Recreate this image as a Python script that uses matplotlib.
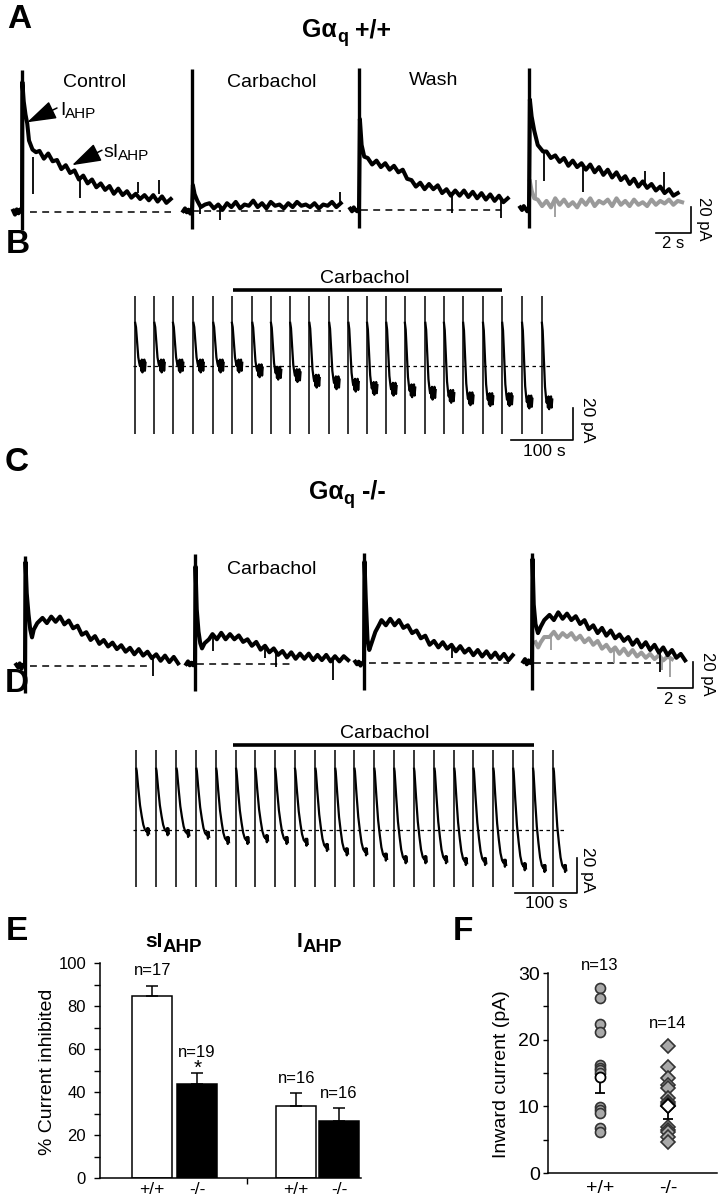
import numpy as np
import matplotlib
matplotlib.use("Agg")
import matplotlib.pyplot as plt

plt.rcParams['font.family'] = ['Liberation Sans', 'DejaVu Sans']
plt.rcParams['axes.linewidth'] = 1.1

# ======================= DATA =======================
DT = 0.25                                   # s, sampling step of slow part of traces
PRE_T = [-0.5, -0.4, -0.3, -0.2, -0.1, 0.0]  # s, pre-stimulus samples

# ---- Panel A : Gaq +/+  (pA vs s after stimulus) ----
A_COND = ['Control', 'Carbachol', 'Wash']
A_ART = (-14, 109)                 # stimulus artefact extent (pA)

A1_PRE = [1, -2, 2, -1, 2, 0]
A1_ET = [0.02, 0.1, 0.2, 0.3, 0.4, 0.6, 0.8]
A1_EI = [100, 85, 75, 68, 55, 48, 46]
A1_T0 = 1.0
A1_SLOW = [47, 41, 45, 39, 40, 33, 36, 30, 32, 25, 28, 22, 25, 19, 22, 17,
           20, 14, 18, 13, 16, 11, 14, 10, 13, 9, 13, 8, 12, 7, 10]
A1_SPK = ([0.63, 3.3, 6.6, 7.8], [14, 11, 15, 14], [42, 28, 23, 25])

A2_PRE = [0, 2, -1, 1, -2, 1]
A2_ET = [0.05, 0.15, 0.3, 0.5, 0.75]
A2_EI = [20, 13, 8, 3, 5]
A2_T0 = 1.0
A2_SLOW = [6, 2, 5, 1, 6, 3, 7, 2, 5, 4, 8, 3, 6, 2, 7, 4, 5, 2, 6, 3, 7, 4,
           5, 3, 6, 2, 5, 4, 7, 3, 6]
A2_SPK = ([0.45, 1.6, 8.45], [-2, -7, 5], [4, 4, 15])

A3_PRE = [1, -1, 2, 0, -1, 1]
A3_ET = [0.05, 0.15, 0.3]
A3_EI = [70, 50, 41]
A3_T0 = 0.5
A3_SLOW = [40, 35, 38, 33, 36, 31, 34, 29, 31, 24, 23, 18, 21, 16, 20, 16, 19,
           13, 16, 11, 15, 11, 15, 10, 14, 9, 13, 8, 12, 7, 11, 6, 9]
A3_SPK = ([5.3, 8.1], [-2, -6], [14, 9])

A4_PRE = [2, 0, 3, 1, -1, 2]
A4_ET = [0.05, 0.15, 0.3, 0.5, 0.8]
A4_EI = [85, 72, 61, 50, 45]
A4_T0 = 1.0
A4_SLOW = [45, 40, 42, 37, 40, 34, 38, 33, 36, 31, 35, 29, 33, 27, 31, 25, 29,
           23, 26, 20, 24, 18, 22, 17, 20, 15, 18, 13, 16, 11, 13]
A4_SPK = ([0.86, 3.1, 6.6, 7.7], [22, 14, 18, 15], [45, 32, 30, 29])
A4G_ET = [0.05, 0.15, 0.3]
A4G_EI = [22, 15, 9]
A4G_T0 = 0.5
A4G_SLOW = [8, 3, 7, 2, 9, 4, 8, 3, 6, 2, 8, 4, 9, 3, 7, 5, 8, 3, 9, 4, 7, 3,
            8, 4, 6, 3, 8, 4, 7, 5, 8, 4, 7, 6]
A4G_SPK = ([0.4, 1.5], [8, -5], [23, 6])

# ---- Panel C : Gaq -/- ----
C_ART = (-21, 85)
C1_PRE = [1, -1, 2, -2, 1, 0]
C1_ET = [0.03, 0.1, 0.2, 0.3, 0.4, 0.5, 0.7]
C1_EI = [80, 56, 40, 28, 22, 28, 33]
C1_T0 = 1.0
C1_SLOW = [37, 33, 38, 34, 38, 32, 35, 29, 31, 24, 26, 20, 23, 17, 20, 15, 18,
           13, 16, 11, 14, 9, 13, 8, 11, 6, 9, 4, 8, 3, 7, 2]
C1_SPK = ([7.3], [-8], [8])

C2_PRE = [0, 2, -1, 1, -1, 2]
C2_ET = [0.03, 0.1, 0.2, 0.3, 0.4, 0.55, 0.8]
C2_EI = [75, 42, 25, 16, 12, 16, 19]
C2_T0 = 1.0
C2_SLOW = [23, 19, 24, 19, 23, 19, 22, 17, 19, 14, 17, 11, 14, 9, 12, 7, 10, 5,
           9, 4, 8, 4, 8, 3, 7, 3, 7, 2, 6, 2, 6, 3]
C2_SPK = ([1.03, 4.0, 4.6, 7.9], [10, 5, -2, -12], [21, 13, 11, 4])

C3_PRE = [1, -1, 1, -2, 0, 1]
C3_ET = [0.03, 0.1, 0.2, 0.3, 0.45, 0.65, 0.85]
C3_EI = [78, 50, 18, 10, 16, 24, 29]
C3_T0 = 1.0
C3_SLOW = [33, 29, 34, 29, 33, 27, 29, 23, 25, 19, 21, 14, 17, 12, 16, 11, 14,
           9, 13, 8, 11, 6, 10, 5, 9, 4, 8, 3, 7, 2, 6]
C3_SPK = ([5.0], [4], [14])

C4_PRE = [1, 3, -1, 2, 0, 1]
C4_ET = [0.03, 0.1, 0.2, 0.34, 0.5, 0.7]
C4_EI = [80, 45, 30, 23, 28, 33]
C4_T0 = 1.0
C4_SLOW = [37, 33, 39, 34, 38, 33, 36, 30, 33, 26, 29, 23, 27, 21, 25, 19, 22,
           17, 20, 14, 18, 12, 16, 10, 14, 8, 12, 6, 10, 4, 7, 2]
C4_SPK = ([7.3], [-7], [11])
C4G_ET = [0.2, 0.35, 0.5, 0.7]
C4G_EI = [16, 12, 16, 20]
C4G_T0 = 1.0
C4G_SLOW = [20, 24, 19, 23, 20, 23, 18, 21, 16, 19, 14, 17, 11, 14, 9, 12, 7,
            11, 6, 10, 5, 8, 4, 7, 3, 6, 2, 5, 3]
C4G_SPK = ([1.1, 4.7, 7.4, 7.9], [10, 0, -5, -11], [21, 12, 5, 4])

# ---- Panel B : sweeps every ~30 s, Gaq +/+ ----
B_ONSET = [0, 31, 61, 94, 126, 156, 189, 219, 250, 281, 313, 344, 374, 405,
           435, 468, 498, 529, 561, 592, 624, 656]
B_LEVEL = [0, 0, 0, 0, 0, 0, -3, -4.5, -6, -9.5, -10.5, -12, -14, -14.5,
           -15.5, -17, -19, -20.5, -21, -21, -22.5, -23]
B_PEAK = 27
B_ART = (-42.5, 44)
B_DEC_T = [0.3, 1.6, 3.7, 5.3, 7.0, 8.0]
B_DEC_F = [1.0, 0.9, 0.5, 0.2, 0.06, 0.0]
B_BLOB_T = [9, 10, 11, 12, 13, 14, 15, 16, 17]
B_BLOB_N = [3, -3, 4, -4, 3, -2, 4, -3, 2]
B_CARB = (158, 592)

# ---- Panel D : sweeps, Gaq -/- ----
D_ONSET = [0, 32, 65, 97, 129, 161, 192, 224, 256, 289, 321, 352, 384, 416,
           448, 481, 513, 544, 576, 608, 640, 673]
D_LEVEL = [-1, -1, -2, -3, -6, -6, -5, -6, -7, -10, -12.5, -12.5, -15.5, -17,
           -17, -17, -18, -18, -19, -21, -22, -22]
D_PEAK = 35
D_ART = (-32.6, 45.7)
D_DEC_T = [0.5, 1.1, 3.7, 6.5, 9.2, 11.8, 14.5, 17.3]
D_DEC_F = [1.0, 0.97, 0.69, 0.42, 0.25, 0.11, 0.03, 0.0]
D_BLOB_T = [18, 19, 20, 21]
D_BLOB_N = [2, -2, 2, -1]
D_CARB = (156, 642)

SCALE_PA = 20
SCALE_S_AC = 2
SCALE_S_BD = 100

# ---- Panel E : % current inhibited ----
E_GENO = ['+/+', '-/-', '+/+', '-/-']
E_MEAN = [84.5, 43.5, 33.5, 26.5]
E_SEM = [5.0, 5.5, 6.0, 6.0]
E_N = [17, 19, 16, 16]
E_FILL = ['white', 'black', 'white', 'black']

# ---- Panel F : inward current (pA) ----
F_GENO = ['+/+', '-/-']
F_WT = [27.7, 26.2, 22.3, 21.2, 16.2, 15.8, 15.45, 15.0, 9.95, 9.45, 8.95, 6.7, 6.2]
F_KO = [19.1, 15.95, 14.2, 13.2, 12.8, 11.2, 10.7, 10.3, 10.05, 6.95, 6.5, 6.2,
        5.45, 4.7]
F_MEAN = [14.4, 10.0]
F_SEM = [2.4, 1.9]
F_N = [13, 14]

# ======================= FIGURE =======================
W, H = 722, 1200
fig = plt.figure(figsize=(W / 100, H / 100), dpi=100)
renderer = fig.canvas.get_renderer()


def px_axes(x0, y0, x1, y1):
    return fig.add_axes([x0 / W, 1 - y1 / H, (x1 - x0) / W, (y1 - y0) / H])


def trace_axes(x0, y0, x1, y1, ox, oy, sx, sy):
    ax = px_axes(x0, y0, x1, y1)
    ax.set_xlim((x0 - ox) / sx, (x1 - ox) / sx)
    ax.set_ylim((oy - y1) / sy, (oy - y0) / sy)
    ax.set_axis_off()
    ax.patch.set_alpha(0)
    return ax


def px_text(x, y, s, **kw):
    kw.setdefault('ha', 'center')
    kw.setdefault('va', 'center')
    return fig.text(x / W, 1 - y / H, s, **kw)


def rich(x, y, pieces, align='left'):
    objs, widths = [], []
    for s, size, weight, dy in pieces:
        t = fig.text(0, 0, s, fontsize=size, fontweight=weight,
                     ha='left', va='baseline')
        widths.append(t.get_window_extent(renderer).width)
        objs.append((t, dy))
    cur = x - sum(widths) / 2 if align == 'center' else x
    for (t, dy), w in zip(objs, widths):
        t.set_position((cur / W, 1 - (y + dy) / H))
        cur += w


def draw_trace(ax, pre, et, ei, t0, slow, spk, color='k', lw=2.9):
    tt = list(et) + list(t0 + DT * np.arange(len(slow)))
    ii = list(ei) + list(slow)
    if pre is not None:
        tt = list(PRE_T) + tt
        ii = list(pre) + ii
    ax.plot(tt, ii, color=color, lw=lw, solid_joinstyle='round')
    ax.vlines(spk[0], spk[1], spk[2], color=color, lw=1.3)


SX, SY = 17.5, 1.3   # px per s, px per pA (panels A, C)
DASH = (0, (4.5, 3.5))
ARROW = dict(arrowstyle='-|>,head_length=1.4,head_width=0.45',
             mutation_scale=13, color='k', lw=1.1, shrinkA=0, shrinkB=0)

# ---------------- Panel A ----------------
A_STIM_X = [22, 192, 359, 529]
A_BASE_Y = [212, 211, 210, 210]
A_DATA = [(A1_PRE, A1_ET, A1_EI, A1_T0, A1_SLOW, A1_SPK),
          (A2_PRE, A2_ET, A2_EI, A2_T0, A2_SLOW, A2_SPK),
          (A3_PRE, A3_ET, A3_EI, A3_T0, A3_SLOW, A3_SPK),
          (A4_PRE, A4_ET, A4_EI, A4_T0, A4_SLOW, A4_SPK)]
A_DASH = [(0.45, 8.5), (0.0, 8.5), (0.1, 8.1), None]
axA = []
for k in range(4):
    x0 = A_STIM_X[k] - 15
    x1 = 722 if k == 3 else A_STIM_X[k] + 165
    ax = trace_axes(x0, 55, x1, 255, A_STIM_X[k], A_BASE_Y[k], SX, SY)
    axA.append(ax)
    if A_DASH[k] is not None:
        ax.hlines(0, *A_DASH[k], colors='k', lw=1.1, linestyles=[DASH])
    if k == 3:
        draw_trace(ax, None, A4G_ET, A4G_EI, A4G_T0, A4G_SLOW, A4G_SPK,
                   color='#9a9a9a')
    draw_trace(ax, *A_DATA[k])
    ax.vlines(0, *A_ART, colors='k', lw=2.4)

# scale bar A
axA[3].plot([9.26 - SCALE_S_AC, 9.26, 9.26],
            [-17.7, -17.7, -17.7 + SCALE_PA], color='k', lw=1.2)
px_text(703, 219, '20 pA', fontsize=12, rotation=270)
px_text(673, 243, '2 s', fontsize=12)

# annotations in A
axA[0].annotate('', xy=(0.29, 69), xytext=(2.0, 80), arrowprops=ARROW)
axA[0].annotate('', xy=(2.86, 36), xytext=(4.57, 47.5), arrowprops=ARROW)
rich(60, 115, [('I', 14, 'normal', 0), ('AHP', 11, 'normal', 3)])
rich(103, 157, [('sI', 14, 'normal', 0), ('AHP', 11, 'normal', 3)])

px_text(95, 87, A_COND[0], fontsize=14, va='baseline')
px_text(272, 87, A_COND[1], fontsize=14, va='baseline')
px_text(434, 85, A_COND[2], fontsize=14, va='baseline')
rich(302, 37, [('G\u03b1', 18, 'bold', 0), ('q', 13, 'bold', 5),
               (' +/+', 18, 'bold', 0)])

# ---------------- Panel B ----------------
def draw_sweeps(ax, onsets, levels, peak, art, dec_t, dec_f, blob_t, blob_n):
    for on, lev in zip(onsets, levels):
        tt = [on + d for d in dec_t] + [on + d for d in blob_t]
        ii = [lev + (peak - lev) * f for f in dec_f] + [lev + n for n in blob_n]
        ax.plot(tt, ii, color='k', lw=1.6)
        ax.vlines(on, *art, colors='k', lw=1.1)


axB = trace_axes(115, 255, 600, 465, 135, 366, 0.62, 1.6)
axB.hlines(0, -3, 669, colors='k', lw=0.9, linestyles=[(0, (2.8, 2.8))])
draw_sweeps(axB, B_ONSET, B_LEVEL, B_PEAK, B_ART, B_DEC_T, B_DEC_F,
            B_BLOB_T, B_BLOB_N)
axB.hlines(47.5, *B_CARB, colors='k', lw=2.6)
px_text(365, 283, 'Carbachol', fontsize=14, va='baseline')
axB.plot([706 - SCALE_S_BD, 706, 706], [-46.3, -46.3, -46.3 + SCALE_PA],
         color='k', lw=1.2)
px_text(587, 420, '20 pA', fontsize=12.5, rotation=270)
px_text(544, 451, '100 s', fontsize=12.5)

# ---------------- Panel C ----------------
C_STIM_X = [25, 195, 364, 532]
C_BASE_Y = [666, 664, 663, 663]
C_DATA = [(C1_PRE, C1_ET, C1_EI, C1_T0, C1_SLOW, C1_SPK),
          (C2_PRE, C2_ET, C2_EI, C2_T0, C2_SLOW, C2_SPK),
          (C3_PRE, C3_ET, C3_EI, C3_T0, C3_SLOW, C3_SPK),
          (C4_PRE, C4_ET, C4_EI, C4_T0, C4_SLOW, C4_SPK)]
C_DASH = [(0.3, 7.0), (0.1, 5.5), (0.3, 8.3), (0.1, 7.3)]
axC = []
for k in range(4):
    x0 = C_STIM_X[k] - 15
    x1 = 722 if k == 3 else C_STIM_X[k] + 165
    ax = trace_axes(x0, 535, x1, 712, C_STIM_X[k], C_BASE_Y[k], SX, SY)
    axC.append(ax)
    ax.hlines(0, *C_DASH[k], colors='k', lw=1.1, linestyles=[DASH])
    if k == 3:
        draw_trace(ax, None, C4G_ET, C4G_EI, C4G_T0, C4G_SLOW, C4G_SPK,
                   color='#9a9a9a')
    draw_trace(ax, *C_DATA[k])
    ax.vlines(0, *C_ART, colors='k', lw=2.4)

axC[3].plot([9.2 - SCALE_S_AC, 9.2, 9.2], [-19.2, -19.2, -19.2 + SCALE_PA],
            color='k', lw=1.2)
px_text(708, 674, '20 pA', fontsize=12, rotation=270)
px_text(675, 700, '2 s', fontsize=12)
px_text(272, 574, 'Carbachol', fontsize=14, va='baseline')
rich(309, 499, [('G\u03b1', 18, 'bold', 0), ('q', 13, 'bold', 5),
                (' -/-', 18, 'bold', 0)])

# ---------------- Panel D ----------------
axD = trace_axes(115, 715, 600, 912, 136, 830, 0.62, 1.75)
axD.hlines(0, -5, 692, colors='k', lw=0.9, linestyles=[(0, (2.8, 2.8))])
draw_sweeps(axD, D_ONSET, D_LEVEL, D_PEAK, D_ART, D_DEC_T, D_DEC_F,
            D_BLOB_T, D_BLOB_N)
axD.hlines(48.6, *D_CARB, colors='k', lw=2.6)
px_text(385, 738, 'Carbachol', fontsize=14, va='baseline')
axD.plot([711 - SCALE_S_BD, 711, 711], [-36, -36, -36 + SCALE_PA],
         color='k', lw=1.2)
px_text(588, 870, '20 pA', fontsize=12.5, rotation=270)
px_text(546, 904, '100 s', fontsize=12.5)

# ---------------- Panel E ----------------
axE = px_axes(100, 963, 361, 1178)
e_pos = [0, 1, 3.2, 4.15]
axE.bar(e_pos, E_MEAN, width=0.9, color=E_FILL, edgecolor='k', linewidth=1.1,
        zorder=2)
axE.errorbar(e_pos, E_MEAN, yerr=[np.zeros(4), E_SEM], fmt='none', ecolor='k',
             elinewidth=1.1, capsize=4.5, capthick=1.1, zorder=3)
axE.set_xlim(-1.16, 4.64)
axE.set_ylim(0, 100)
for s in ('top', 'right'):
    axE.spines[s].set_visible(False)
axE.set_yticks(range(0, 101, 20))
axE.set_yticks(range(10, 100, 20), minor=True)
axE.tick_params(axis='y', which='both', direction='out', length=4, width=1,
                labelsize=12, pad=6)
axE.set_xticks([2.11])
axE.set_xticklabels([''])
axE.set_xticks(e_pos, minor=True)
axE.set_xticklabels(E_GENO, minor=True)
axE.tick_params(axis='x', which='major', direction='out', length=4, width=1)
axE.tick_params(axis='x', which='minor', length=0, labelsize=12.5, pad=3)
for k in range(4):
    off = 9.6 if k == 1 else 7.0
    axE.text(e_pos[k], E_MEAN[k] + E_SEM[k] + off, 'n=%d' % E_N[k],
             ha='center', va='center', fontsize=12)
axE.text(e_pos[1], E_MEAN[1] + E_SEM[1] + 2.0, '*', ha='center', va='center',
         fontsize=15)
px_text(48, 1072, '% Current inhibited', fontsize=14, rotation=90)
rich(174, 947, [('sI', 15, 'bold', 0), ('AHP', 13.5, 'bold', 4.5)],
     align='center')
rich(319, 947, [('I', 15, 'bold', 0), ('AHP', 13.5, 'bold', 4.5)],
     align='center')

# ---------------- Panel F ----------------
axF = px_axes(548, 973, 717, 1173)
axF.plot([1] * len(F_WT), F_WT, 'o', ms=7.2, mfc='#a9a9a9', mec='#333333',
         mew=1.2, zorder=2)
axF.plot([2] * len(F_KO), F_KO, 'D', ms=6.8, mfc='#a9a9a9', mec='#333333',
         mew=1.2, zorder=2)
axF.errorbar([1], [F_MEAN[0]], yerr=[[F_SEM[0]], [0]], fmt='o', ms=7.2,
             mfc='white', mec='k', mew=1.3, ecolor='k', elinewidth=1.3,
             capsize=3.5, capthick=1.3, zorder=3)
axF.errorbar([2], [F_MEAN[1]], yerr=[[F_SEM[1]], [0]], fmt='D', ms=6.8,
             mfc='white', mec='k', mew=1.3, ecolor='k', elinewidth=1.3,
             capsize=3.5, capthick=1.3, zorder=3)
axF.set_xlim(0.235, 2.72)
axF.set_ylim(0, 30)
for s in ('top', 'right'):
    axF.spines[s].set_visible(False)
axF.set_yticks([0, 10, 20, 30])
axF.set_yticks([5, 15, 25], minor=True)
axF.tick_params(axis='y', which='both', direction='out', length=3.5, width=1,
                labelsize=14, pad=2.5)
axF.set_xticks([])
axF.set_xticks([1, 2], minor=True)
axF.set_xticklabels(F_GENO, minor=True)
axF.tick_params(axis='x', which='minor', length=0, labelsize=14, pad=5)
axF.text(1, 31.2, 'n=%d' % F_N[0], ha='center', va='center', fontsize=12)
axF.text(2, 22.35, 'n=%d' % F_N[1], ha='center', va='center', fontsize=12)
px_text(502, 1074, 'Inward current (pA)', fontsize=14, rotation=90)

# ---------------- panel letters ----------------
for lab, x, y in [('A', 19, 19), ('B', 18, 245), ('C', 17, 463),
                  ('D', 17, 683), ('E', 17, 932), ('F', 463, 932)]:
    px_text(x, y, lab, fontsize=24, fontweight='bold')

fig.savefig('out.png', dpi=100)
